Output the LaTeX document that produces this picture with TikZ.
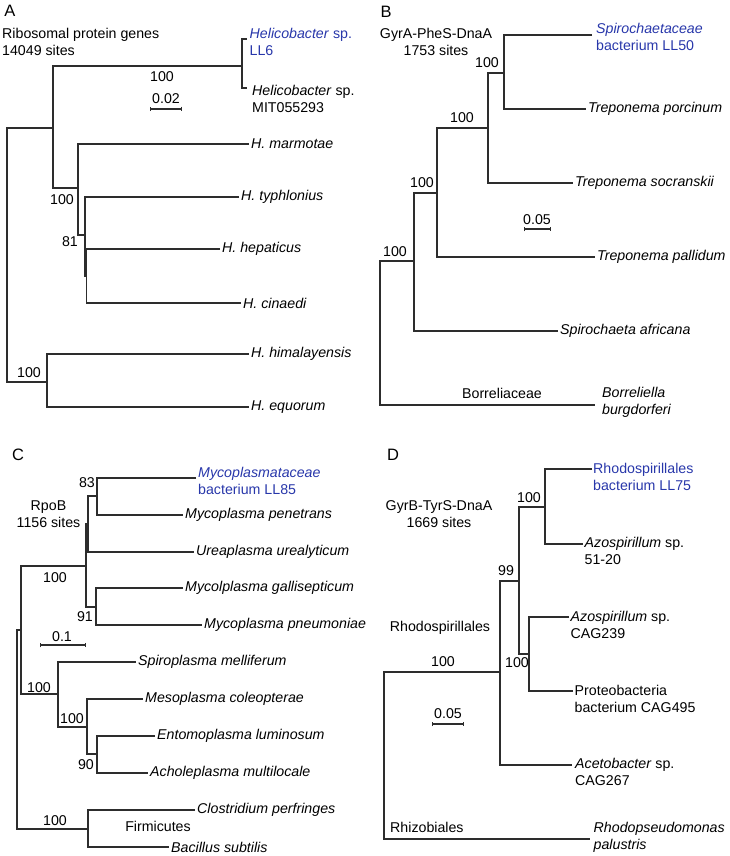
\documentclass[tikz,border=0pt]{standalone}
\usepackage{fontspec}
\setmainfont{Liberation Sans}
\usetikzlibrary{arrows.meta}
\definecolor{linec}{RGB}{45,45,45}
\definecolor{hilite}{RGB}{40,55,170}
\begin{document}
\begin{tikzpicture}[x=1pt,y=-1pt,
  txt/.style={font=\fontsize{14.2}{17}\selectfont, inner sep=0pt, text=black},
  leaf/.style={txt, anchor=west, align=left},
  boot/.style={txt, anchor=center},
  panel/.style={font=\fontsize{16.5}{18}\selectfont, inner sep=0pt},
  br/.style={draw=linec, line width=1.1pt},
  sbar/.style={draw=linec, line width=1.1pt, {Bar[width=4.5pt]}-{Bar[width=4.5pt]}}
]
\useasboundingbox (0,0) rectangle (729,856);

% ================= Panel A =================
\node[panel] (pA) at (10,11) {A};
\node[leaf] (titA) at (2,41.5) {Ribosomal protein genes\\14049 sites};
% internal nodes
\coordinate (rA) at (7,255);
\coordinate (nA1) at (53,128);
\coordinate (nA2) at (242,66);
\coordinate (nA3) at (78,188);
\coordinate (nA4) at (85,235);
\coordinate (nA4b) at (86.5,276);
\coordinate (nA5) at (47,382);
% tips
\coordinate (tA1) at (247,39);
\coordinate (tA2) at (247,88);
\coordinate (tA3) at (249,144);
\coordinate (tA4) at (239,197);
\coordinate (tA5) at (220,249);
\coordinate (tA6) at (241,303);
\coordinate (tA7) at (249,354);
\coordinate (tA8) at (249,407);
\draw[br] (nA1) -| (rA) |- (nA5);
\draw[br] (nA2) -| (nA1) |- (nA3);
\draw[br] (tA1) -| (nA2) |- (tA2);
\draw[br] (tA3) -| (nA3) |- (nA4);
\draw[br] (tA4) -| (nA4) |- (nA4b);
\draw[br] (tA5) -| (nA4b) |- (tA6);
\draw[br] (tA7) -| (nA5) |- (tA8);
\node[leaf, text=hilite] (lA1) at (249.5,42) {\textit{Helicobacter} sp.\\LL6};
\node[leaf] (lA2) at (252,98.5) {\textit{Helicobacter} sp.\\MIT055293};
\node[leaf] (lA3) at ([xshift=2pt]tA3) {\textit{H. marmotae}};
\node[leaf] (lA4) at ([xshift=2pt]tA4) {\textit{H. typhlonius}};
\node[leaf] (lA5) at ([xshift=2pt]tA5) {\textit{H. hepaticus}};
\node[leaf] (lA6) at ([xshift=2pt]tA6) {\textit{H. cinaedi}};
\node[leaf] (lA7) at ([xshift=2pt]tA7) {\textit{H. himalayensis}};
\node[leaf] (lA8) at ([xshift=2pt]tA8) {\textit{H. equorum}};
\node[boot] (bA1) at (162,77) {100};
\node[boot] (bA2) at (62,200) {100};
\node[boot] (bA3) at (70,242) {81};
\node[boot] (bA4) at (29,373) {100};
\node[boot] (sA) at (166,99) {0.02};
\coordinate (sA1) at (150,109);
\coordinate (sA2) at (182,109);
\draw[sbar] (sA1) -- (sA2);

% ================= Panel B =================
\node[panel] (pB) at (386,12) {B};
\node[txt, align=center] (titB) at (436,41.5) {GyrA-PheS-DnaA\\1753 sites};
\coordinate (rB) at (380,333);
\coordinate (nB4) at (414,261);
\coordinate (nB3) at (437,193);
\coordinate (nB2) at (488,128);
\coordinate (nB1) at (504,73);
\coordinate (tB1) at (592,35);
\coordinate (tB2) at (586,109);
\coordinate (tB3) at (573,183);
\coordinate (tB4) at (595,257);
\coordinate (tB5) at (558,331);
\coordinate (tB6) at (595,405);
\draw[br] (nB4) -| (rB) |- (tB6);
\draw[br] (nB3) -| (nB4) |- (tB5);
\draw[br] (nB2) -| (nB3) |- (tB4);
\draw[br] (nB1) -| (nB2) |- (tB3);
\draw[br] (tB1) -| (nB1) |- (tB2);
\node[leaf, text=hilite] (lB1) at (596,36.5) {\textit{Spirochaetaceae}\\bacterium LL50};
\node[leaf] (lB2) at ([xshift=2pt]tB2) {\textit{Treponema porcinum}};
\node[leaf] (lB3) at ([xshift=2pt]tB3) {\textit{Treponema socranskii}};
\node[leaf] (lB4) at ([xshift=2pt]tB4) {\textit{Treponema pallidum}};
\node[leaf] (lB5) at ([xshift=2pt]tB5) {\textit{Spirochaeta africana}};
\node[leaf] (lB6) at (602,402) {\textit{Borreliella}\\\textit{burgdorferi}};
\node[boot] (bB1) at (487,63) {100};
\node[boot] (bB2) at (462,118) {100};
\node[boot] (bB3) at (422,183) {100};
\node[boot] (bB4) at (395,252) {100};
\node[txt] (famB) at (502,393) {Borreliaceae};
\node[boot] (sB) at (537,220) {0.05};
\coordinate (sB1) at (524,229);
\coordinate (sB2) at (551,229);
\draw[sbar] (sB1) -- (sB2);

% ================= Panel C =================
\node[panel] (pC) at (18,455) {C};
\node[txt, align=center] (titC) at (48.5,514.5) {RpoB\\1156 sites};
\coordinate (rC) at (17,730);
\coordinate (nC3) at (21,630);
\coordinate (nC2) at (86,566);
\coordinate (nC1b) at (88,524);
\coordinate (nC1) at (97,496);
\coordinate (nC4) at (96,607);
\coordinate (nC5) at (58,694);
\coordinate (nC6) at (87,727);
\coordinate (nC7) at (97,754);
\coordinate (nCF) at (88,829);
\coordinate (tC1) at (196,478);
\coordinate (tC2) at (183,515);
\coordinate (tC3) at (194,552);
\coordinate (tC4) at (183,588);
\coordinate (tC5) at (202,625);
\coordinate (tC6) at (136,662);
\coordinate (tC7) at (143,699);
\coordinate (tC8) at (155,736);
\coordinate (tC9) at (148,773);
\coordinate (tC10) at (195,810);
\coordinate (tC11) at (169,847);
\draw[br] (nC3) -| (rC) |- (nCF);
\draw[br] (nC2) -| (nC3) |- (nC5);
\draw[br] (nC1b) -| (nC2) |- (nC4);
\draw[br] (nC1) -| (nC1b) |- (tC3);
\draw[br] (tC1) -| (nC1) |- (tC2);
\draw[br] (tC4) -| (nC4) |- (tC5);
\draw[br] (tC6) -| (nC5) |- (nC6);
\draw[br] (tC7) -| (nC6) |- (nC7);
\draw[br] (tC8) -| (nC7) |- (tC9);
\draw[br] (tC10) -| (nCF) |- (tC11);
\node[leaf, text=hilite] (lC1) at (198,481) {\textit{Mycoplasmataceae}\\bacterium LL85};
\node[leaf] (lC2) at ([xshift=2pt]tC2) {\textit{Mycoplasma penetrans}};
\node[leaf] (lC3) at ([xshift=2pt]tC3) {\textit{Ureaplasma urealyticum}};
\node[leaf] (lC4) at ([xshift=2pt]tC4) {\textit{Mycolplasma gallisepticum}};
\node[leaf] (lC5) at ([xshift=2pt]tC5) {\textit{Mycoplasma pneumoniae}};
\node[leaf] (lC6) at ([xshift=2pt]tC6) {\textit{Spiroplasma melliferum}};
\node[leaf] (lC7) at ([xshift=2pt]tC7) {\textit{Mesoplasma coleopterae}};
\node[leaf] (lC8) at ([xshift=2pt]tC8) {\textit{Entomoplasma luminosum}};
\node[leaf] (lC9) at ([xshift=2pt]tC9) {\textit{Acholeplasma multilocale}};
\node[leaf] (lC10) at ([xshift=2pt]tC10) {\textit{Clostridium perfringes}};
\node[leaf] (lC11) at ([xshift=2pt]tC11) {\textit{Bacillus subtilis}};
\node[boot] (bC1) at (87,483) {83};
\node[boot] (bC2) at (55,578) {100};
\node[boot] (bC3) at (85,617) {91};
\node[boot] (bC4) at (39,688) {100};
\node[boot] (bC5) at (72,719) {100};
\node[boot] (bC6) at (86,765) {90};
\node[boot] (bC7) at (55,821) {100};
\node[txt] (famC) at (158,826) {Firmicutes};
\node[boot] (sC) at (62,637) {0.1};
\coordinate (sC1) at (40,645);
\coordinate (sC2) at (86,645);
\draw[sbar] (sC1) -- (sC2);

% ================= Panel D =================
\node[panel] (pD) at (393,455) {D};
\node[txt, align=center] (titD) at (439,514.5) {GyrB-TyrS-DnaA\\1669 sites};
\coordinate (rD) at (384,755);
\coordinate (nD3) at (500,672);
\coordinate (nD2) at (519,581);
\coordinate (nD1) at (545,507);
\coordinate (nD4) at (529,654);
\coordinate (tD1) at (592,469);
\coordinate (tD2) at (583,544);
\coordinate (tD3) at (569,617);
\coordinate (tD4) at (573,691);
\coordinate (tD5) at (572,765);
\coordinate (tD6) at (590,839);
\draw[br] (nD3) -| (rD) |- (tD6);
\draw[br] (nD2) -| (nD3) |- (tD5);
\draw[br] (nD1) -| (nD2) |- (nD4);
\draw[br] (tD1) -| (nD1) |- (tD2);
\draw[br] (tD3) -| (nD4) |- (tD4);
\node[leaf, text=hilite] (lD1) at (593,476.5) {Rhodospirillales\\bacterium LL75};
\node[leaf] (lD2) at (584.5,551) {\textit{Azospirillum} sp.\\51-20};
\node[leaf] (lD3) at (570.5,625) {\textit{Azospirillum} sp.\\CAG239};
\node[leaf] (lD4) at (574.5,698.5) {Proteobacteria\\bacterium CAG495};
\node[leaf] (lD5) at (575,772) {\textit{Acetobacter} sp.\\CAG267};
\node[leaf] (lD6) at (593.5,837.5) {\textit{Rhodopseudomonas}\\\textit{palustris}};
\node[boot] (bD1) at (529,498) {100};
\node[boot] (bD2) at (506,571) {99};
\node[boot] (bD3) at (517,663) {100};
\node[boot] (bD4) at (443,662) {100};
\node[txt] (famD1) at (440,628) {Rhodospirillales};
\node[txt, anchor=west] (famD2) at (390,827) {Rhizobiales};
\node[boot] (sD) at (448,714) {0.05};
\coordinate (sD1) at (432,724);
\coordinate (sD2) at (464,724);
\draw[sbar] (sD1) -- (sD2);
\end{tikzpicture}
\end{document}
